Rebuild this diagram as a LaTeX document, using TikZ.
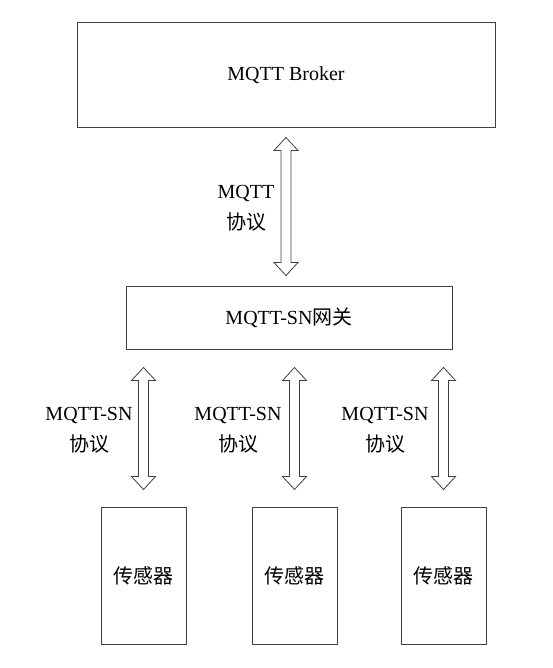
\documentclass[tikz,border=0pt]{standalone}
\usepackage{fontspec}
\setmainfont{Liberation Serif}
\newfontfamily\cjk{Noto Sans CJK SC}
\usetikzlibrary{calc}

\begin{document}
\begin{tikzpicture}[x=1pt, y=-1pt,
        every node/.style={font=\fontsize{20}{31}\selectfont},
        box/.style={draw=black!75, line width=1pt, inner sep=0pt},
        lbl/.style={align=center},
        dblarrow/.style={draw=black!75, line width=0.8pt, line join=miter, to path={
            let \p1=(\tikztostart), \p2=(\tikztotarget) in
            (\x1,\y1) -- (\x1+12pt,\y1-13pt) -- (\x1+5pt,\y1-13pt) -- (\x1+5pt,\y2+13pt)
            -- (\x1+12pt,\y2+13pt) -- (\x1,\y2) -- (\x1-12pt,\y2+13pt) -- (\x1-5pt,\y2+13pt)
            -- (\x1-5pt,\y1-13pt) -- (\x1-12pt,\y1-13pt) -- cycle}}]
            \useasboundingbox (0,0) rectangle (552,668);
            % boxes
            \node[box, minimum width=418pt, minimum height=105pt] (broker) at (286,75.5) {MQTT Broker};
            \node[box, minimum width=326pt, minimum height=63pt] (gw) at (289,317.5) {MQTT-SN{\cjk 网关}};
            \foreach \n/\x in {1/143.5, 2/294.5, 3/443.5}
                \node[box, minimum width=85pt, minimum height=137pt] (s\n) at (\x,575.5) {\cjk 传感器};
            % protocol arrows
            \draw[dblarrow] ([yshift=-9pt]broker.south) to ([yshift=10pt]gw.north);
            \node[lbl] (mqtt) at (246,208) {MQTT\\{\cjk 协议}};
            \foreach \n/\x in {1/89, 2/238, 3/385} {
                \draw[dblarrow] ([yshift=-18pt]gw.south -| s\n.north) to ([yshift=17pt]s\n.north);
                \node[lbl] (sn\n) at (\x,430) {MQTT-SN\\{\cjk 协议}};
            }
\end{tikzpicture}
\end{document}
